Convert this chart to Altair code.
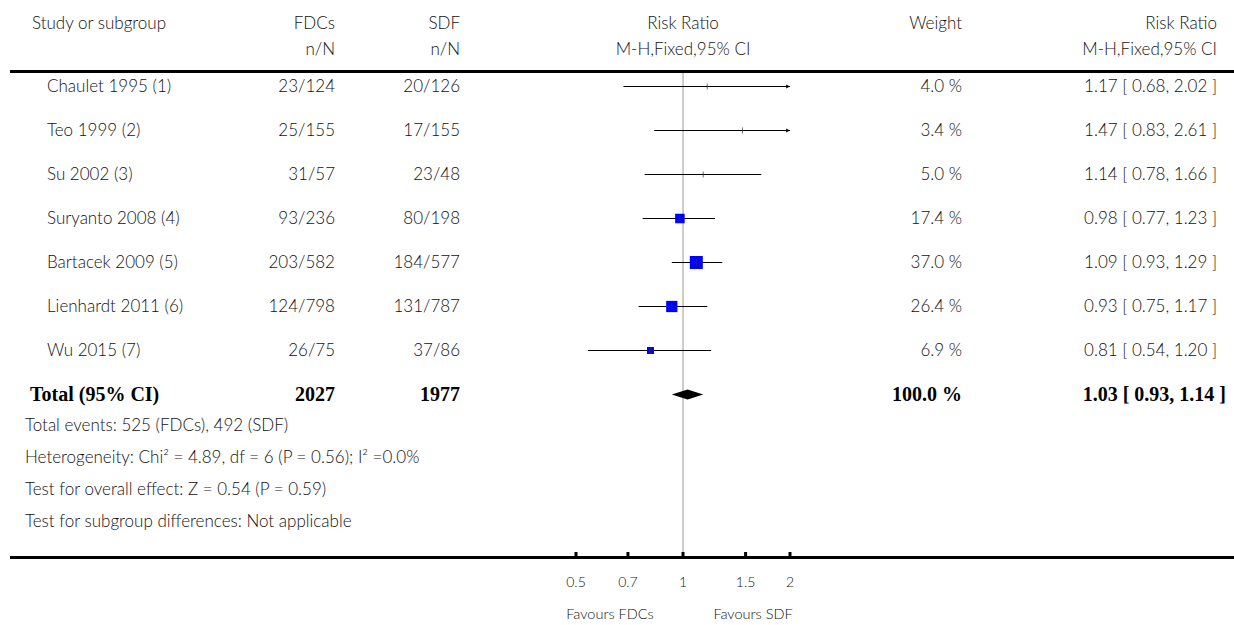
import altair as alt
import pandas as pd

# ---------------- data ----------------
studies = ["Chaulet 1995 (1)", "Teo 1999 (2)", "Su 2002 (3)", "Suryanto 2008 (4)",
           "Bartacek 2009 (5)", "Lienhardt 2011 (6)", "Wu 2015 (7)"]
fdc_events = [23, 25, 31, 93, 203, 124, 26]
fdc_total = [124, 155, 57, 236, 582, 798, 75]
sdf_events = [20, 17, 23, 80, 184, 131, 37]
sdf_total = [126, 155, 48, 198, 577, 787, 86]
weights = [4.0, 3.4, 5.0, 17.4, 37.0, 26.4, 6.9]
rr = [1.17, 1.47, 1.14, 0.98, 1.09, 0.93, 0.81]
ci_lo = [0.68, 0.83, 0.78, 0.77, 0.93, 0.75, 0.54]
ci_hi = [2.02, 2.61, 1.66, 1.23, 1.29, 1.17, 1.20]

total_label = "Total (95% CI)"
total_fdc = 2027
total_sdf = 1977
total_weight = 100.0
total_rr, total_lo, total_hi = 1.03, 0.93, 1.14

footnotes = [
    "Total events: 525 (FDCs), 492 (SDF)",
    "Heterogeneity: Chi\u00b2 = 4.89, df = 6 (P = 0.56); I\u00b2 =0.0%",
    "Test for overall effect: Z = 0.54 (P = 0.59)",
    "Test for subgroup differences: Not applicable",
]
header_top = ["Study or subgroup", "FDCs", "SDF", "Risk Ratio", "Weight", "Risk Ratio"]
header_sub = ["", "n/N", "n/N", "M-H,Fixed,95% CI", "", "M-H,Fixed,95% CI"]
tick_values = [0.5, 0.7, 1, 1.5, 2]
tick_labels = ["0.5", "0.7", "1", "1.5", "2"]
null_value = [1]
favours = ["Favours FDCs", "Favours SDF"]

# ---------------- tables ----------------
n = len(studies)
df = pd.DataFrame({
    "study": studies,
    "row": list(range(n)),
    "fdc": [f"{a}/{b}" for a, b in zip(fdc_events, fdc_total)],
    "sdf": [f"{a}/{b}" for a, b in zip(sdf_events, sdf_total)],
    "weight": weights,
    "wlabel": [f"{w:.1f} %" for w in weights],
    "rr": rr, "lo": ci_lo, "hi": ci_hi,
    "rrlabel": [f"{r:.2f} [ {l:.2f}, {h:.2f} ]" for r, l, h in zip(rr, ci_lo, ci_hi)],
})
total_row = n
tot = pd.DataFrame({
    "row": [total_row],
    "label": [total_label],
    "fdc": [str(total_fdc)],
    "sdf": [str(total_sdf)],
    "wlabel": [f"{total_weight:.1f} %"],
    "rrlabel": [f"{total_rr:.2f} [ {total_lo:.2f}, {total_hi:.2f} ]"],
})
diamond = pd.DataFrame({"x": [total_lo, total_rr, total_hi], "k": [0, 1, 0], "row": [total_row] * 3})
ticks = pd.DataFrame({"v": tick_values, "lab": tick_labels})
ref = pd.DataFrame({"v": null_value})
one = pd.DataFrame({"a": [0]})

FONT = "Lato"
FS = 17
FW = 300
TC = "#111111"

xs = alt.Scale(type="log", domain=[0.5, 2], range=[576, 790], clamp=True)
ys = alt.Scale(domain=[0, n], range=[86.5, 394.5])

X = lambda f: alt.X(f, type="quantitative", scale=xs, axis=None)
Y = lambda f: alt.Y(f, type="quantitative", scale=ys, axis=None)

layers = []

# header texts
col_x = [32, 335, 460, 683, 962, 1217]
col_align = ["left", "right", "right", "center", "right", "right"]
for lab, sub, cx, al in zip(header_top, header_sub, col_x, col_align):
    layers.append(alt.Chart(one).mark_text(align=al, baseline="middle", font=FONT, fontWeight=FW,
                                           fontSize=FS, color=TC).encode(
        x=alt.value(cx), y=alt.value(24), text=alt.value(lab)))
    if sub:
        layers.append(alt.Chart(one).mark_text(align=al, baseline="middle", font=FONT, fontWeight=FW,
                                               fontSize=FS, color=TC).encode(
            x=alt.value(cx), y=alt.value(50), text=alt.value(sub)))

# horizontal rules
layers.append(alt.Chart(one).mark_rule(color="black", strokeWidth=3).encode(
    x=alt.value(10), x2=alt.value(1234), y=alt.value(71.5)))
layers.append(alt.Chart(one).mark_rule(color="black", strokeWidth=3).encode(
    x=alt.value(10), x2=alt.value(1234), y=alt.value(557.5)))

# reference line at 1
layers.append(alt.Chart(ref).mark_rule(color="#9a9a9a", strokeWidth=1).encode(
    x=X("v"), y=alt.value(73), y2=alt.value(557)))

# study text columns
def col(field, cx, align):
    return alt.Chart(df).mark_text(align=align, baseline="middle", font=FONT, fontWeight=FW,
                                   fontSize=FS, color=TC).encode(
        x=alt.value(cx), y=Y("row"), text=field)

layers += [col("study:N", 47, "left"), col("fdc:N", 335, "right"), col("sdf:N", 460, "right"),
           col("wlabel:N", 962, "right"), col("rrlabel:N", 1217, "right")]

# CI lines
layers.append(alt.Chart(df).mark_rule(color="black", strokeWidth=1).encode(
    x=X("lo"), x2="hi:Q", y=Y("row")))
# arrows for clipped CIs
layers.append(alt.Chart(df).transform_filter("datum.hi > 2").mark_point(
    shape="triangle-right", filled=True, size=18, color="black", opacity=1, xOffset=-2).encode(
    x=X("hi"), y=Y("row")))
# squares
layers.append(alt.Chart(df).transform_filter("datum.weight > 6").mark_square(
    color="#0000ff", opacity=1).encode(
    x=X("rr"), y=Y("row"),
    size=alt.Size("weight:Q", scale=alt.Scale(domain=[6.9, 37], range=[49, 169]), legend=None)))
# estimate ticks
layers.append(alt.Chart(df).mark_tick(orient="vertical", size=6, thickness=1, color="#333333").encode(
    x=X("rr"), y=Y("row")))

# total row
def tcol(field, cx, align):
    return alt.Chart(tot).mark_text(align=align, baseline="middle", font="Liberation Serif", fontSize=20,
                                    fontWeight="bold", color="black").encode(
        x=alt.value(cx), y=Y("row"), text=field)

layers += [tcol("label:N", 30, "left"), tcol("fdc:N", 335, "right"), tcol("sdf:N", 460, "right"),
           tcol("wlabel:N", 962, "right"), tcol("rrlabel:N", 1226, "right")]

# diamond
layers.append(alt.Chart(diamond).transform_calculate(
    ya="datum.row - 0.115 * datum.k", yb="datum.row + 0.115 * datum.k").mark_area(
    color="black", opacity=1).encode(x=X("x"), y=Y("ya"), y2="yb:Q"))

# footnotes
for i, t in enumerate(footnotes):
    layers.append(alt.Chart(one).mark_text(align="left", baseline="middle", font=FONT, fontWeight=FW,
                                           fontSize=FS, color=TC).encode(
        x=alt.value(25), y=alt.value(426 + 32 * i), text=alt.value(t)))

# axis ticks and labels
layers.append(alt.Chart(ticks).mark_rule(color="black", strokeWidth=3).encode(
    x=X("v"), y=alt.value(552), y2=alt.value(558)))
layers.append(alt.Chart(ticks).mark_text(baseline="middle", font=FONT, fontWeight=FW, fontSize=14,
                                         color=TC).encode(
    x=X("v"), y=alt.value(583), text="lab:N"))
for lab, cx in zip(favours, [610, 753]):
    layers.append(alt.Chart(one).mark_text(align="center", baseline="middle", font=FONT, fontWeight=FW,
                                           fontSize=14.5, color=TC).encode(
        x=alt.value(cx), y=alt.value(615), text=alt.value(lab)))

chart = alt.layer(*layers).properties(
    width=1234, height=625, autosize=alt.AutoSizeParams(type="none"), padding=0,
    background="white"
).configure_view(stroke=None)

chart.save("out.html", embed_options={"renderer": "svg", "actions": False})
